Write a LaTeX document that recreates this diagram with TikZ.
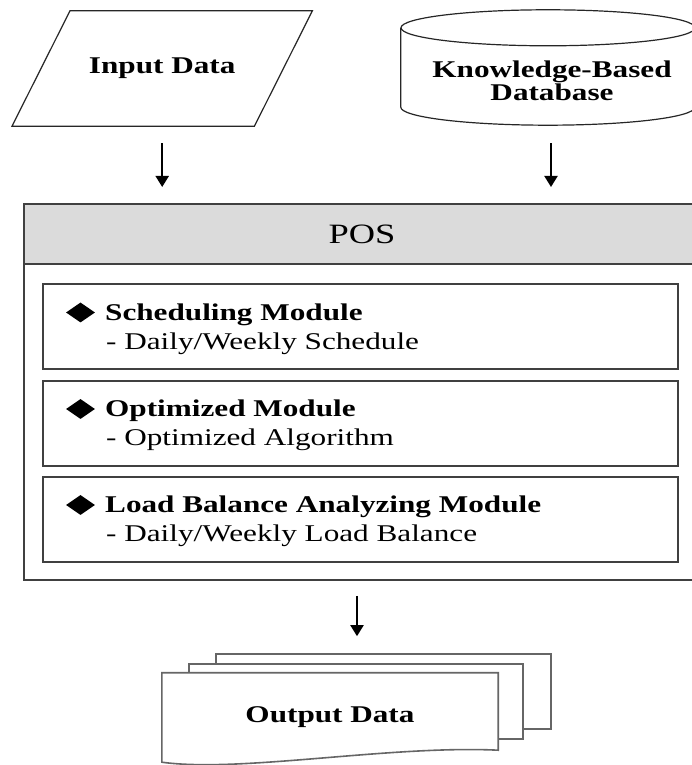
\documentclass[tikz,border=0pt]{standalone}
\usepackage{fontspec}
\setmainfont{Liberation Serif}[FakeStretch=1.3]
\usetikzlibrary{shapes.geometric,arrows.meta,positioning}

\begin{document}
\begin{tikzpicture}[x=1pt, y=1pt,
    every node/.style={font=\fontsize{24}{22}\selectfont},
    frame/.style={draw=black!75, line width=2pt},
    thinline/.style={draw=black!85, line width=1.2pt},
    page/.style={draw=black!60, line width=1.6pt, fill=white, inner sep=0pt},
    arr/.style={-{Triangle[length=11pt,width=13pt]}, line width=2pt},
    modbox/.style={frame, minimum width=635pt, minimum height=85pt, inner sep=0pt},
    bullet/.style={diamond, fill=black, minimum width=29pt, minimum height=20pt, inner sep=0pt},
    ttl/.style={font=\fontsize{24}{22}\selectfont\bfseries, inner sep=0pt, anchor=base west}
]
\useasboundingbox (0,0) rectangle (692,765);
\clip (0,0) rectangle (692,765);

% input data
\node[minimum width=242pt, minimum height=115pt, inner sep=0pt,
      font=\fontsize{24}{22}\selectfont\bfseries] (input) at (162.2,696.5) {Input Data};
\draw[thinline] ([xshift=29pt]input.north west) -- ([xshift=29pt]input.north east)
    -- ([xshift=-29pt]input.south east) -- ([xshift=-29pt]input.south west) -- cycle;

% database
\node[minimum width=294pt, minimum height=79pt, inner sep=0pt] (kb) at (548,697.5) {};
\draw[thinline] (kb.north west) -- (kb.south west)
    arc[start angle=180, end angle=360, x radius=147pt, y radius=18pt] -- (kb.north east);
\draw[thinline] (kb.north) ellipse [x radius=147pt, y radius=18pt];
\node[align=center, inner sep=0pt, font=\fontsize{24}{23.5}\selectfont\bfseries] (kbtext) at (552,684) {Knowledge-Based\\Database};

% POS
\node[frame, fill=white, minimum width=676pt, minimum height=376pt] (pos) at (362,373) {};
\node[frame, fill=black!14, minimum width=676pt, minimum height=60pt,
      font=\fontsize{28}{30}\selectfont] (posh) at (362,531) {POS};

\foreach \yc/\nm/\ttl/\sub in {438/sched/{Scheduling Module}/{Daily/Weekly Schedule},
                               341.5/optim/{Optimized Module}/{Optimized Algorithm},
                               245.5/load/{Load Balance Analyzing Module}/{Daily/Weekly Load Balance}}
{
    \node[modbox] (\nm) at (360.5,\yc) {};
    \node[bullet] (\nm-b) at (80.5,\yc+14.5) {};
    \node[ttl] (\nm-t) at (105,\yc+6.5) {\ttl};
    \node[inner sep=0pt, anchor=base west] (\nm-s) at (106,\yc-22.5) {- \sub};
}

% output data
\node[page, minimum width=335pt, minimum height=75pt] (out3) at (383.5,73.5) {};
\node[page, minimum width=334pt, minimum height=75pt] (out2) at (356,63.5) {};
\node[inner sep=0pt, minimum width=336pt, minimum height=89pt] (out1) at (330,47.5) {};
\draw[page] (out1.north west) -- (out1.north east) -- ([yshift=12pt]out1.south east)
    .. controls (390,20) and (240,-8) .. (out1.south west) -- cycle;
\node[inner sep=0pt, font=\fontsize{24}{22}\selectfont\bfseries] (outtext) at (out1) {\raisebox{4pt}{Output Data}};

% arrows
\coordinate (kbout) at ([xshift=3pt,yshift=-18pt]kb.south);
\coordinate (mid) at (357,0);
\draw[arr, shorten <=17pt, shorten >=16pt] (input.south) -- (input.south |- pos.north);
\draw[arr, shorten <=18pt, shorten >=16pt] (kbout) -- (kbout |- pos.north);
\draw[arr, shorten <=15pt, shorten >=17pt] (pos.south -| mid) -- (out3.north -| mid);
\end{tikzpicture}
\end{document}
